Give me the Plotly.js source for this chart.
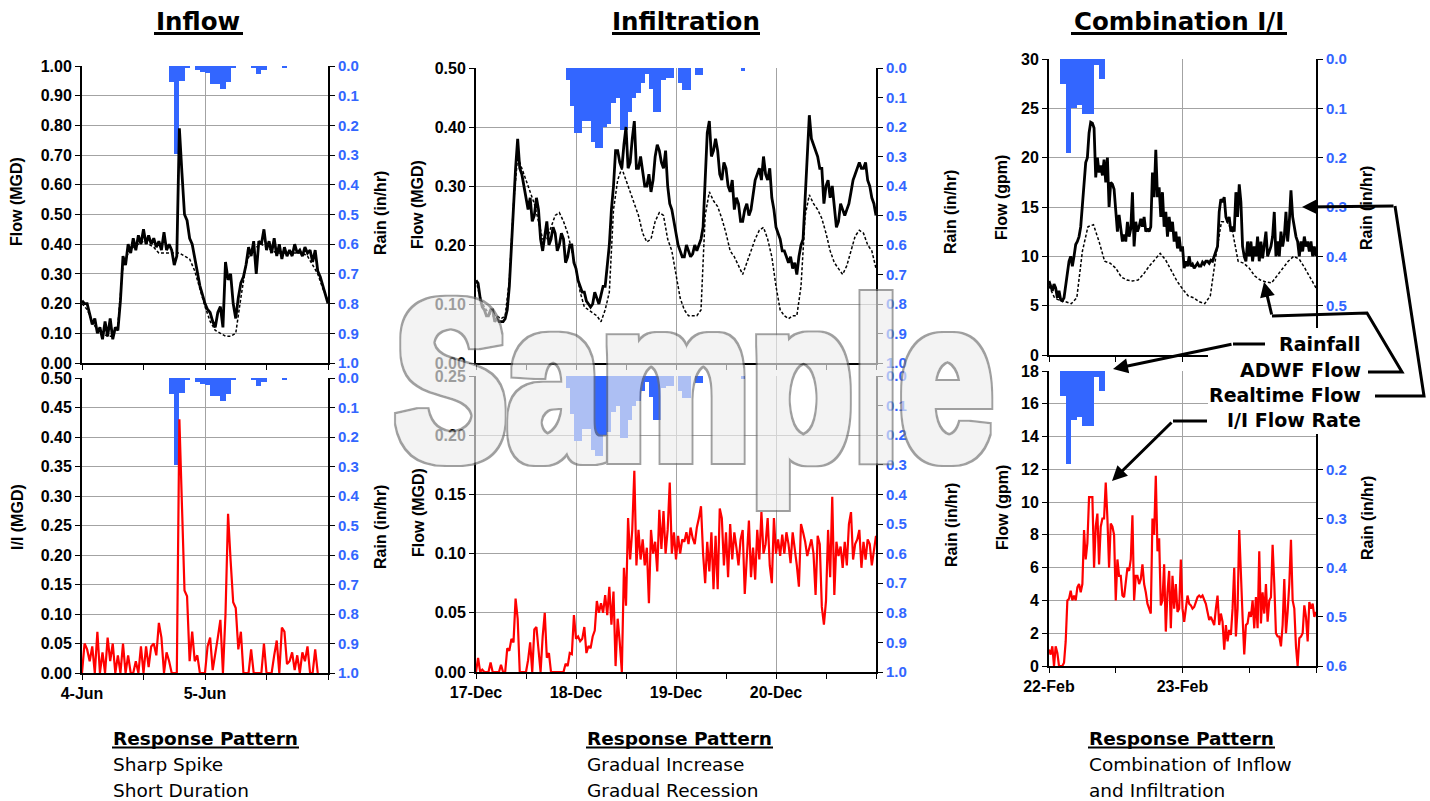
<!DOCTYPE html>
<html><head><meta charset="utf-8">
<script src="https://cdn.plot.ly/plotly-3.0.1.min.js"></script>
<style>
body{margin:0;background:#fff}
#wrap{position:relative;width:1430px;height:801px}
#chart{width:1430px;height:801px}
#wm{position:absolute;left:0;top:0;pointer-events:none}
</style>
</head><body>
<div id="wrap"><div id="chart"></div>
<svg id="wm" width="1430" height="801">
<defs><filter id="outl" x="-5%" y="-10%" width="110%" height="120%">
<feMorphology in="SourceAlpha" operator="dilate" radius="6" result="outer"/>
<feMorphology in="SourceAlpha" operator="dilate" radius="3.5" result="inner"/>
<feFlood flood-color="#6e6e6e" result="gc"/><feComposite in="gc" in2="outer" operator="in" result="g"/>
<feFlood flood-color="#ededed" result="fc"/><feComposite in="fc" in2="inner" operator="in" result="f"/>
<feMerge><feMergeNode in="g"/><feMergeNode in="f"/></feMerge></filter></defs>
<g opacity="0.66"><text x="395" y="459" font-family="Liberation Sans, Arial, sans-serif" font-weight="bold" font-size="226" textLength="598" lengthAdjust="spacingAndGlyphs" fill="#000" filter="url(#outl)">Sample</text></g>
</svg>
</div>
<script>
// ---------- tick labels ----------
const inflowTicks=['4-Jun','5-Jun',''];
const infilTicks=['17-Dec','18-Dec','19-Dec','20-Dec',''];
const comboTicks=['22-Feb','23-Feb',''];

// ---------- Inflow (4-Jun .. 6-Jun) ----------
const inflowRain=[0,0,0,0,0,0,0,0,0,0,0,0,0,0,0,0,0,
0.053,0.296,0.05,0.008,0,0.013,0.02,0.025,0.062,0.062,0.077,0.053,0.008,0,0,0,0.008,0.027,0.013,0,0,0,0.008,
0,0,0,0,0,0,0,0];
const inflowReal=[0.21,0.20,0.20,0.16,0.13,0.15,0.10,0.12,0.08,0.14,
0.09,0.15,0.08,0.12,0.11,0.21,0.36,0.33,0.40,0.37,
0.42,0.38,0.43,0.40,0.45,0.40,0.43,0.40,0.42,0.39,
0.41,0.38,0.44,0.38,0.40,0.38,0.33,0.36,0.79,0.64,
0.50,0.48,0.42,0.40,0.35,0.30,0.26,0.23,0.20,0.18,
0.17,0.14,0.12,0.17,0.19,0.12,0.34,0.28,0.30,0.20,
0.15,0.22,0.27,0.29,0.33,0.39,0.36,0.41,0.30,0.41,
0.40,0.45,0.38,0.41,0.37,0.42,0.36,0.40,0.35,0.39,
0.36,0.38,0.36,0.40,0.37,0.38,0.36,0.39,0.37,0.38,
0.34,0.38,0.31,0.29,0.26,0.23,0.20];
const inflowAdwf=[0.20,0.18,0.14,0.11,0.10,0.09,0.09,0.13,0.33,0.37,
0.39,0.40,0.41,0.40,0.39,0.37,0.37,0.37,0.37,0.37,
0.36,0.35,0.31,0.25,0.19,0.14,0.11,0.10,0.09,0.09,
0.10,0.22,0.33,0.38,0.39,0.40,0.39,0.38,0.37,0.37,
0.37,0.37,0.37,0.37,0.36,0.33,0.30,0.25,0.21];
const inflowII=[0.00,0.05,0.04,0.02,0.045,0.00,0.07,0.00,0.035,0.00,
0.06,0.02,0.05,0.00,0.03,0.00,0.05,0.00,0.03,0.00,
0.00,0.02,0.00,0.045,0.00,0.045,0.01,0.045,0.05,0.03,
0.085,0.06,0.00,0.035,0.02,0.00,0.00,0.00,0.43,0.30,
0.14,0.13,0.02,0.07,0.02,0.03,0.00,0.00,0.00,0.045,
0.06,0.005,0.03,0.06,0.09,0.00,0.10,0.27,0.19,0.12,
0.11,0.04,0.07,0.00,0.00,0.00,0.04,0.00,0.00,0.00,
0.00,0.05,0.00,0.00,0.00,0.03,0.055,0.00,0.077,0.07,
0.015,0.02,0.035,0.005,0.03,0.00,0.035,0.02,0.045,0.00,
0.00,0.04,0.00];

// ---------- Infiltration (17-Dec .. 21-Dec) ----------
const infilRain=[0,0,0,0,0,0,0,0,0,0,0,0,0,0,0,0,0,0,0,0,0,0,
0.04,0.13,0.22,0.22,0.18,0.18,0.25,0.27,0.27,0.20,0.19,0.12,0.10,0.21,0.21,0.15,0.10,0.085,0.05,0.02,0.07,0.15,0.15,0.04,0.035,0.035,0,0.05,0.075,0.075,0,0.025,0.025,
0,0,0,0,0,0,0,0,0,0.01,
0,0,0,0,0,0,0,0,0,0,0,0,0,0,0,0,0,0,0,0,0,0,0,0,0,0,0,0,0,0,0];
const infilReal=[0.14,0.135,0.11,0.095,0.09,0.08,0.08,0.09,0.09,0.07,0.075,0.07,0.07,0.07,0.075,0.09,0.13,0.20,0.27,0.33,
0.38,0.33,0.32,0.30,0.28,0.26,0.28,0.24,0.25,0.28,0.26,0.21,0.19,0.22,0.24,0.20,0.21,0.23,0.22,0.19,
0.20,0.22,0.21,0.17,0.18,0.20,0.20,0.17,0.16,0.14,0.13,0.12,0.12,0.105,0.10,0.095,0.10,0.12,0.11,0.10,
0.115,0.13,0.13,0.16,0.20,0.26,0.30,0.36,0.36,0.34,0.33,0.37,0.40,0.33,0.34,0.38,0.41,0.33,0.33,0.35,
0.32,0.30,0.30,0.32,0.29,0.31,0.35,0.37,0.36,0.34,0.33,0.36,0.30,0.27,0.26,0.24,0.22,0.20,0.19,0.18,
0.18,0.20,0.19,0.18,0.185,0.20,0.19,0.20,0.21,0.23,0.30,0.39,0.41,0.35,0.36,0.38,0.36,0.32,0.31,0.34,
0.33,0.30,0.29,0.31,0.26,0.28,0.27,0.24,0.24,0.26,0.27,0.25,0.26,0.29,0.31,0.32,0.33,0.31,0.35,0.32,
0.31,0.33,0.28,0.26,0.23,0.22,0.21,0.19,0.19,0.18,0.17,0.18,0.16,0.17,0.15,0.18,0.20,0.21,0.28,0.36,
0.42,0.38,0.37,0.36,0.35,0.33,0.33,0.27,0.30,0.31,0.28,0.30,0.26,0.23,0.24,0.27,0.26,0.25,0.26,0.27,
0.29,0.31,0.32,0.33,0.34,0.33,0.33,0.34,0.31,0.30,0.28,0.27,0.25];
const infilAdwf=[0.14,0.11,0.095,0.085,0.08,0.08,0.075,0.08,0.14,0.27,
0.35,0.33,0.31,0.29,0.27,0.24,0.21,0.21,0.23,0.25,
0.255,0.24,0.22,0.19,0.16,0.12,0.095,0.09,0.085,0.08,
0.07,0.09,0.12,0.26,0.31,0.33,0.31,0.29,0.27,0.25,
0.22,0.205,0.21,0.24,0.255,0.25,0.21,0.19,0.15,0.11,
0.09,0.08,0.08,0.08,0.09,0.25,0.29,0.275,0.265,0.245,
0.22,0.19,0.18,0.165,0.15,0.17,0.19,0.21,0.225,0.23,
0.21,0.18,0.13,0.09,0.08,0.075,0.08,0.08,0.13,0.25,
0.285,0.27,0.26,0.245,0.22,0.19,0.17,0.16,0.15,0.165,
0.19,0.215,0.225,0.22,0.20,0.19,0.16];
const infilII=[0.000,0.012,0.000,0.002,0.000,0.000,0.000,0.008,0.000,0.000,
0.000,0.000,0.006,0.000,0.000,0.020,0.018,0.028,0.025,0.062,
0.045,0.000,0.000,0.000,0.000,0.010,0.025,0.000,0.036,0.038,
0.015,0.000,0.030,0.050,0.012,0.016,0.000,0.000,0.000,0.000,
0.000,0.000,0.000,0.007,0.005,0.016,0.015,0.048,0.028,0.030,
0.026,0.028,0.038,0.016,0.022,0.020,0.030,0.035,0.060,0.050,
0.058,0.050,0.065,0.048,0.072,0.040,0.068,0.005,0.045,0.025,
0.000,0.088,0.056,0.130,0.095,0.120,0.170,0.090,0.120,0.095,
0.112,0.090,0.105,0.058,0.120,0.100,0.110,0.085,0.137,0.104,
0.136,0.100,0.120,0.160,0.100,0.118,0.095,0.115,0.100,0.112,
0.110,0.118,0.108,0.122,0.113,0.108,0.122,0.130,0.140,0.100,
0.075,0.110,0.085,0.118,0.070,0.115,0.070,0.138,0.130,0.090,
0.118,0.080,0.125,0.095,0.118,0.105,0.090,0.112,0.120,0.066,
0.100,0.128,0.080,0.105,0.078,0.120,0.095,0.135,0.100,0.108,
0.130,0.090,0.075,0.130,0.100,0.112,0.098,0.116,0.100,0.118,
0.108,0.092,0.118,0.105,0.090,0.072,0.125,0.118,0.110,0.098,
0.106,0.112,0.100,0.065,0.115,0.108,0.055,0.040,0.060,0.120,
0.080,0.148,0.065,0.110,0.098,0.106,0.088,0.110,0.090,0.125,
0.135,0.095,0.108,0.112,0.120,0.088,0.110,0.095,0.112,0.108,
0.090,0.105,0.115];

// ---------- Combination (22-Feb .. 24-Feb) ----------
const comboRain=[0,0,0.05,0.19,0.10,0.093,0.111,0.111,0.012,0.04,
0,0,0,0,0,0,0,0,0,0,0,0,0,0,0,0,0,0,0,0,0,0,0,0,0,0,0,0,0,0,0,0,0,0,0,0,0,0];
const comboReal=[7.5,7.0,6.5,7.2,6.8,5.8,6.5,5.6,5.5,5.8,
7.0,8.5,9.5,10.0,9.0,10.0,11.2,11.5,12.0,13.0,
15.0,17.5,19.5,20.0,22.5,23.6,23.5,23.0,18.0,20.0,
18.5,19.2,18.2,19.8,17.5,20.0,15.0,17.5,17.3,16.8,
15.0,12.5,14.2,12.8,11.5,12.2,11.5,13.5,12.0,12.8,
16.5,11.0,13.5,12.5,13.0,13.8,13.0,14.0,12.5,12.8,
12.5,13.0,18.5,16.0,20.8,16.0,17.0,14.0,16.5,13.0,
14.5,12.0,14.0,12.5,13.5,11.5,12.5,10.8,12.0,10.5,
11.0,8.8,9.5,9.0,10.0,9.0,9.2,8.8,9.0,9.3,
9.0,9.0,9.4,9.2,9.5,9.5,9.3,9.6,9.5,10.0,
10.5,11.0,14.5,15.8,15.5,16.0,14.0,13.5,14.0,12.5,
13.0,12.5,16.5,14.0,17.3,15.5,11.0,10.0,9.5,11.5,
10.0,11.5,9.5,11.0,10.0,12.0,9.5,11.5,9.8,11.0,
12.5,10.0,10.5,11.0,12.0,14.5,10.0,11.5,10.0,12.5,
11.0,12.0,14.5,11.5,13.5,16.7,14.0,13.0,12.0,11.5,
10.0,11.5,10.5,12.0,11.0,11.5,10.5,11.5,10.0,11.0,
10.0];
const comboAdwf=[7.0,5.8,5.5,5.4,5.2,5.8,10.5,13.0,13.2,11.5,
9.5,9.3,8.8,7.9,7.6,7.5,7.6,8.2,9.0,9.6,
10.3,9.6,8.5,7.5,6.7,6.0,5.8,5.4,5.2,6.0,
10.0,13.5,13.5,12.5,9.5,9.3,8.8,8.0,7.6,7.4,
7.3,8.0,8.8,9.5,10.0,9.7,8.8,7.8,6.8];
const comboII=[1.0,0.7,1.2,0.0,1.2,0.8,0.0,0.0,0.0,0.2,
1.5,4.0,4.1,4.6,4.0,4.3,4.0,4.8,5.0,4.5,
5.0,8.3,6.5,7.5,10.3,10.3,10.3,6.0,8.5,9.3,
6.2,8.5,9.0,9.0,11.2,9.0,6.0,8.7,8.5,8.0,
4.0,6.5,5.5,5.5,4.3,4.2,5.0,6.0,5.8,6.5,
9.2,4.0,5.5,5.5,5.0,5.3,6.2,5.0,4.5,3.8,
3.5,3.2,9.0,8.0,11.6,7.0,7.8,3.7,4.0,6.2,
2.1,4.5,5.8,2.3,5.5,3.5,5.0,3.3,3.5,6.5,
3.5,2.7,3.5,4.3,3.8,3.7,3.5,3.6,3.9,4.2,
4.3,4.2,4.3,4.0,3.8,3.3,2.8,3.0,2.8,2.5,
3.5,4.3,2.5,3.2,2.7,1.0,2.5,1.5,2.2,1.9,
3.5,6.0,1.8,3.5,8.3,5.0,3.0,0.7,2.5,2.6,
3.3,3.0,4.0,2.3,4.2,2.3,7.0,2.6,4.5,3.2,
5.0,2.7,4.0,4.2,7.4,5.0,2.0,1.8,1.8,1.2,
2.5,5.3,2.0,3.3,5.0,7.7,4.0,3.5,1.2,0.0,
1.7,1.8,2.0,3.7,3.0,1.5,3.9,3.5,3.8,3.0,
3.3];

// ---------- helpers ----------
const W=1430,H=801;
const px=v=>v/W, py=v=>1-v/H;
const times=(n,step,off)=>Array.from({length:n},(_,i)=>i*step+(off||0));

const BLUE='#3366ff', GRID='#a3a3a3';
const tickFont={family:'Liberation Sans, Arial, sans-serif',size:16,color:'#000',weight:'bold'};
const rainFont={family:'Liberation Sans, Arial, sans-serif',size:15,color:BLUE,weight:'bold'};

const panels=[
 {k:1,xd:[82,328],yd:[66,363],xr:[0,48],days:[0,24,48],half:[12,36],labels:null,fr:[0,1],fd:0.1,ff:'.2f',rr:[1,0]},
 {k:2,xd:[82,328],yd:[378,673],xr:[0,48],days:[0,24,48],half:[12,36],labels:inflowTicks,fr:[0,0.5],fd:0.05,ff:'.2f',rr:[1,0]},
 {k:3,xd:[476,876],yd:[68,363],xr:[0,96],days:[0,24,48,72,96],half:[12,36,60,84],labels:null,fr:[0,0.5],fd:0.1,ff:'.2f',rr:[1,0]},
 {k:4,xd:[476,876],yd:[376,672],xr:[0,96],days:[0,24,48,72,96],half:[12,36,60,84],labels:infilTicks,fr:[0,0.25],fd:0.05,ff:'.2f',rr:[1,0]},
 {k:5,xd:[1049,1316],yd:[59,355],xr:[0,48],days:[0,24,48],half:[12,36],labels:null,fr:[0,30],fd:5,ff:'d',rr:[0.6,0]},
 {k:6,xd:[1049,1316],yd:[371,666],xr:[0,48],days:[0,24,48],half:[12,36],labels:comboTicks,fr:[0,18],fd:2,ff:'d',rr:[0.6,0]}
];

const layout={width:W,height:H,margin:{l:0,r:0,t:0,b:0},showlegend:false,
  paper_bgcolor:'#fff',plot_bgcolor:'rgba(0,0,0,0)',bargap:0,barmode:'overlay',
  annotations:[],shapes:[]};
const ids={};
panels.forEach(p=>{
  const xn=p.k===1?'xaxis':'xaxis'+p.k, xid=p.k===1?'x':'x'+p.k;
  const rn=2*p.k-1, fnum=2*p.k;
  const rname=rn===1?'yaxis':'yaxis'+rn, rid=rn===1?'y':'y'+rn;
  const fname='yaxis'+fnum, fid='y'+fnum;
  ids[p.k]={x:xid,r:rid,f:fid};
  layout[xn]={domain:[px(p.xd[0]),px(p.xd[1])],anchor:rid,range:p.xr,
    tickmode:'array',tickvals:p.days,ticktext:p.labels||p.days.map(()=>''),showticklabels:!!p.labels,
    ticks:'outside',ticklen:5,tickwidth:1,tickcolor:'#000',
    showline:true,linecolor:'#000',linewidth:2,showgrid:true,gridcolor:GRID,gridwidth:1,zeroline:false,
    tickfont:tickFont,
    minor:{tickmode:'array',tickvals:p.half,ticks:'outside',ticklen:5,tickwidth:1,tickcolor:'#000',showgrid:false}};
  layout[rname]={domain:[py(p.yd[1]),py(p.yd[0])],anchor:xid,side:'right',range:p.rr,
    tickmode:'linear',tick0:0,dtick:0.1,tickformat:'.1f',ticks:'outside',ticklen:5,tickwidth:1,tickcolor:'#000',
    showline:true,linecolor:'#000',linewidth:2,showgrid:false,zeroline:false,tickfont:rainFont};
  layout[fname]={overlaying:rid,anchor:xid,side:'left',range:p.fr,
    tickmode:'linear',tick0:0,dtick:p.fd,tickformat:p.ff,ticks:'outside',ticklen:5,tickwidth:1,tickcolor:'#000',
    showline:true,linecolor:'#000',linewidth:2,showgrid:true,gridcolor:GRID,gridwidth:1,zeroline:false,tickfont:tickFont};
});

const traces=[];
function bars(k,x,y){traces.push({type:'bar',x:x,y:y,width:1,xaxis:ids[k].x,yaxis:ids[k].r,
  marker:{color:BLUE,line:{width:0}},hoverinfo:'skip'});}
function line(k,x,y,style){traces.push(Object.assign({type:'scatter',mode:'lines',x:x,y:y,
  xaxis:ids[k].x,yaxis:ids[k].f,hoverinfo:'skip'},style));}
const ADWF={line:{color:'#000',width:1.5,dash:'3px,2px'}};
const REAL={line:{color:'#000',width:2.8}};
const II={line:{color:'#ff0000',width:2.2}};

// Inflow
bars(1,times(48,1,0.5),inflowRain);
line(1,times(49,1),inflowAdwf,ADWF);
line(1,times(97,0.5),inflowReal,REAL);
bars(2,times(48,1,0.5),inflowRain);
line(2,times(93,0.5),inflowII,II);
// Infiltration
bars(3,times(96,1),infilRain);
line(3,times(97,1),infilAdwf,ADWF);
line(3,times(193,0.5),infilReal,REAL);
bars(4,times(96,1),infilRain);
line(4,times(193,0.5),infilII,II);
// Combination
bars(5,times(48,1,0.5),comboRain);
line(5,times(49,1),comboAdwf,ADWF);
line(5,times(161,0.3),comboReal,REAL);
bars(6,times(48,1,0.5),comboRain);
line(6,times(161,0.3),comboII,II);

// ---------- text ----------
const A=layout.annotations, S=layout.shapes;
function txt(t,x,y,o){A.push(Object.assign({text:t,x:px(x),y:py(y),xref:'paper',yref:'paper',showarrow:false,
  xanchor:'center',yanchor:'middle'},o));}
const titleFont={family:'DejaVu Sans, sans-serif',size:24.5,color:'#000',weight:'bold'};
txt('Inflow',198,22,{font:titleFont});
txt('Infiltration',686,22,{font:titleFont});
txt('Combination I/I',1179,22,{font:titleFont});
[[154,243],[612,760],[1071,1287]].forEach(u=>S.push({type:'line',xref:'paper',yref:'paper',x0:px(u[0]),x1:px(u[1]),y0:py(33.5),y1:py(33.5),line:{color:'#000',width:3},layer:'above'}));

const rpBold={family:'DejaVu Sans, sans-serif',size:18.5,color:'#000',weight:'bold'};
const rpReg={family:'DejaVu Sans, sans-serif',size:18.5,color:'#000'};
const blocks=[[111,'Sharp Spike','Short Duration'],[585,'Gradual Increase','Gradual Recession'],[1087,'Combination of Inflow','and Infiltration']];
blocks.forEach(b=>{
  txt('Response Pattern',b[0],738,{xanchor:'left',font:rpBold});
  S.push({type:'line',xref:'paper',yref:'paper',x0:px(b[0]+1),x1:px(b[0]+188),y0:py(747.5),y1:py(747.5),line:{color:'#000',width:2},layer:'above'});
  txt(b[1],b[0],764,{xanchor:'left',font:rpReg});
  txt(b[2],b[0],790,{xanchor:'left',font:rpReg});
});

const axT={family:'Liberation Sans, Arial, sans-serif',size:16,color:'#000',weight:'bold'};
[['Flow (MGD)',17,202],['Rain (in/hr)',380,213],['I/I (MGD)',17,517],['Rain (in/hr)',380,527],
 ['Flow (MGD)',418,205],['Rain (in/hr)',951,212],['Flow (MGD)',418,513],['Rain (in/hr)',951,525],
 ['Flow (gpm)',1002,198],['Rain (in/hr)',1367,208],['Flow (gpm)',1002,508],['Rain (in/hr)',1367,518]
].forEach(a=>txt(a[0],a[1],a[2],{textangle:-90,font:axT}));

// legend box + callouts
S.push({type:'rect',xref:'paper',yref:'paper',x0:px(1208),x1:px(1430),y0:py(434),y1:py(328),fillcolor:'#fff',line:{width:0},layer:'above'});
function poly(pts){S.push({type:'path',xref:'paper',yref:'paper',layer:'above',
  path:pts.map((p,i)=>(i?'L':'M')+px(p[0])+','+py(p[1])).join(' '),line:{color:'#000',width:3}});}
function arrow(tip,tail){A.push({text:'',x:px(tip[0]),y:py(tip[1]),xref:'paper',yref:'paper',showarrow:true,
  ax:tail[0]-tip[0],ay:tail[1]-tip[1],arrowhead:2,arrowsize:1,arrowwidth:3,arrowcolor:'#000',standoff:0,startstandoff:0});}
poly([[1265,344],[1233,344]]); arrow([1113,369],[1233,344]);
poly([[1368,372],[1402,372],[1367,313],[1272,316]]); arrow([1264,282],[1272,316]);
poly([[1375,396],[1424,396],[1395,206]]); arrow([1302,207],[1395,206]);
poly([[1207,421],[1173,421]]); arrow([1112,481],[1173,421]);

const legFont={family:'DejaVu Sans, sans-serif',size:19,color:'#000',weight:'bold'};
[['Rainfall',344],['ADWF Flow',370],['Realtime Flow',395],['I/I Flow Rate',420]].forEach(l=>txt(l[0],1363,l[1],{xanchor:'right',font:legFont}));

Plotly.newPlot('chart',traces,layout,{staticPlot:true,displayModeBar:false});
</script>
</body></html>
